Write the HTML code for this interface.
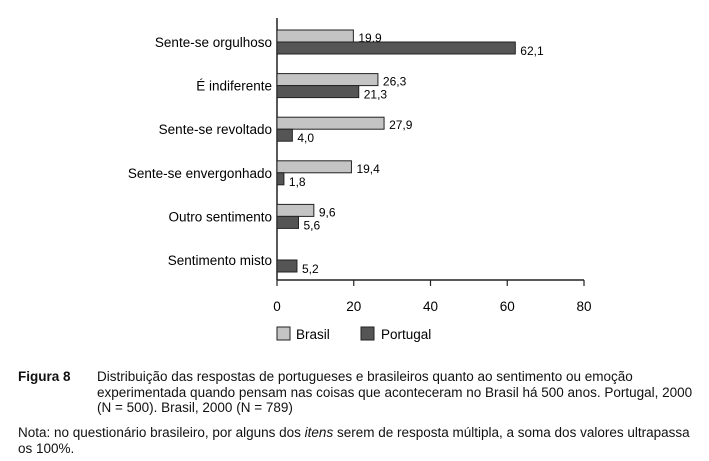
<!DOCTYPE html>
<html><head><meta charset="utf-8"><style>
body{margin:0;background:#fff;width:709px;height:461px;overflow:hidden;font-family:"Liberation Sans",sans-serif;color:#111}
svg{position:absolute;left:0;top:0}
.cap{position:absolute;font-size:13.5px;line-height:15.5px;white-space:nowrap}
</style></head><body>
<svg id="chart" width="709" height="350"></svg>
<div class="cap" style="left:18px;top:369px;font-weight:bold">Figura 8</div>
<div class="cap" style="left:97px;top:369px">Distribuição das respostas de portugueses e brasileiros quanto ao sentimento ou emoção<br>experimentada quando pensam nas coisas que aconteceram no Brasil há 500 anos. Portugal, 2000<br>(N = 500). Brasil, 2000 (N = 789)</div>
<div class="cap" style="left:18px;top:425px">Nota: no questionário brasileiro, por alguns dos <i>itens</i> serem de resposta múltipla, a soma dos valores ultrapassa<br>os 100%.</div>
<script>
const categories=["Sente-se orgulhoso","É indiferente","Sente-se revoltado","Sente-se envergonhado","Outro sentimento","Sentimento misto"];
const brasil=[19.9,26.3,27.9,19.4,9.6,null];
const portugal=[62.1,21.3,4.0,1.8,5.6,5.2];
const ticks=[0,20,40,60,80];
const NS="http://www.w3.org/2000/svg";
const svg=document.getElementById('chart');
const x0=277,x1=584,xmax=80;
const X=v=>x0+v/xmax*(x1-x0);
const gTop=i=>30+i*43.6;
function mk(t,a,txt){const e=document.createElementNS(NS,t);for(const k in a)e.setAttribute(k,a[k]);if(txt!==undefined)e.textContent=txt;svg.appendChild(e);return e;}
let ax=mk('line',{x1:x0,y1:18,x2:x0,y2:280,stroke:'#222','stroke-width':1.5});


let bx=mk('line',{x1:x0,y1:280,x2:x1,y2:280,stroke:'#222','stroke-width':1.5});


ticks.forEach(t=>{
 let l=mk('line',{x1:X(t),y1:280,x2:X(t),y2:286,stroke:'#222','stroke-width':1.2});
 
 
 let tx=mk('text',{x:X(t),y:311,'text-anchor':'middle','font-size':13.5},t);
 
 
});
categories.forEach((c,i)=>{
 const y=gTop(i);
 let lb=mk('text',{x:272,y:y+17,'text-anchor':'end','font-size':13.5},c);
 
 
 if(brasil[i]!=null){
  let r=mk('rect',{x:x0,y:y,width:X(brasil[i])-x0,height:12,fill:'#c4c4c4',stroke:'#222','stroke-width':1});
  
  
  let v=mk('text',{x:X(brasil[i])+5,y:y+12,'font-size':12},brasil[i].toFixed(1).replace('.',','));
  
  
 }
 let r2=mk('rect',{x:x0,y:y+12,width:X(portugal[i])-x0,height:12,fill:'#555',stroke:'#222','stroke-width':1});
 
 
 let v2=mk('text',{x:X(portugal[i])+5,y:y+25,'font-size':12},portugal[i].toFixed(1).replace('.',','));
 
 
});
let s1=mk('rect',{x:277,y:327,width:13,height:13,fill:'#c4c4c4',stroke:'#222'});


let t1=mk('text',{x:296,y:339,'font-size':13.5},'Brasil');


let s2=mk('rect',{x:361,y:327,width:13,height:13,fill:'#555',stroke:'#222'});


let t2=mk('text',{x:381,y:339,'font-size':13.5},'Portugal');


</script>
</body></html>
